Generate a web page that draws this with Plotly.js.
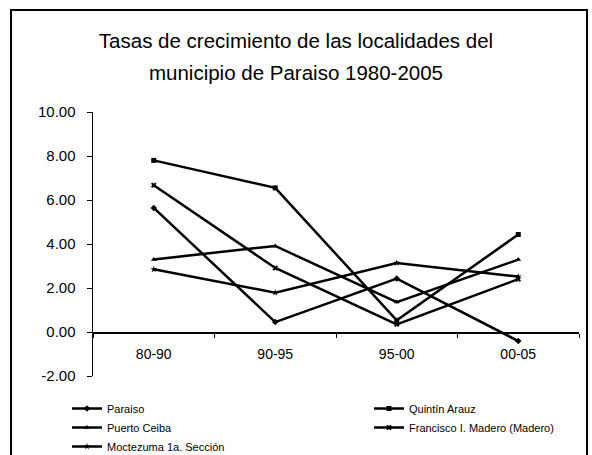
<!DOCTYPE html>
<html>
<head>
<meta charset="utf-8">
<script src="https://cdn.plot.ly/plotly-3.0.1.min.js"></script>
<style>html,body{margin:0;padding:0;background:#fff;}#chart{width:592px;height:455px;}</style>
</head>
<body>
<div id="chart"></div>
<script>
// ---- data ----
const categories = ["80-90", "90-95", "95-00", "00-05"];
const seriesNames = ["Paraiso", "Quintín Arauz", "Puerto Ceiba", "Francisco I. Madero (Madero)", "Moctezuma 1a. Sección"];
const paraiso = [5.64, 0.45, 2.43, -0.41];
const quintinArauz = [7.80, 6.55, 0.53, 4.43];
const puertoCeiba = [3.30, 3.91, 1.36, 3.29];
const franciscoMadero = [6.67, 2.91, 0.35, 2.40];
const moctezuma = [2.85, 1.79, 3.14, 2.52];
const yTickVals = [-2, 0, 2, 4, 6, 8, 10];
const yTickText = ["-2.00", "0.00", "2.00", "4.00", "6.00", "8.00", "10.00"];
const titleLines = ["Tasas de crecimiento de las localidades del", "municipio de Paraiso 1980-2005"];

// ---- styling ----
const W = 592, H = 455;
const M = {l: 93, r: 13, t: 112, b: 79};
const plotW = W - M.l - M.r, plotH = H - M.t - M.b;
const yMin = -2, yMax = 10;
const symbols = ["diamond", "square", "triangle-up", "x", "star"];
const legendCol = ["legend", "legend2", "legend", "legend2", "legend"];
const allSeries = [paraiso, quintinArauz, puertoCeiba, franciscoMadero, moctezuma];
const font = "Liberation Sans, Arial, sans-serif";

const traces = allSeries.map((vals, i) => ({
  type: "scatter",
  mode: "lines+markers",
  name: seriesNames[i],
  legend: legendCol[i],
  x: categories,
  y: vals,
  line: {color: "#000", width: 2.5},
  marker: {color: "#000", size: 5, symbol: symbols[i]},
  cliponaxis: false
}));

const px = v => (v - M.l) / plotW;
const py = v => (H - M.b - v) / plotH;

const legendBase = {
  orientation: "v",
  xanchor: "left",
  y: py(394), yanchor: "top",
  font: {family: font, size: 11, color: "#000"},
  bgcolor: "rgba(0,0,0,0)",
  itemwidth: 30
};

const layout = {
  width: W, height: H,
  margin: {l: M.l, r: M.r, t: M.t, b: M.b, pad: 0, autoexpand: false},
  paper_bgcolor: "#fff", plot_bgcolor: "#fff",
  font: {family: font, color: "#000"},
  showlegend: true,
  title: {
    text: titleLines.map(t => '<span style="font-size:20.5px">' + t + '</span>').join("<br>"),
    font: {family: font, size: 24.5, color: "#000"},
    x: 0.5, xref: "container", xanchor: "center",
    y: 1 - 48 / H, yref: "container", yanchor: "middle"
  },
  xaxis: {
    type: "category",
    range: [-0.5, categories.length - 0.5],
    anchor: "free",
    position: (0 - yMin) / (yMax - yMin),
    showline: true, linecolor: "#000", linewidth: 1.5,
    ticks: "outside", ticklen: 4, tickwidth: 1, tickcolor: "#000",
    tickson: "boundaries",
    ticklabelstandoff: 9,
    showgrid: false, zeroline: false,
    tickfont: {family: font, size: 14, color: "#000"}
  },
  yaxis: {
    range: [yMin, yMax],
    tickvals: yTickVals, ticktext: yTickText,
    showline: true, linecolor: "#000", linewidth: 1.5,
    ticks: "outside", ticklen: 5, tickwidth: 1, tickcolor: "#000",
    ticklabelstandoff: 8,
    showgrid: false, zeroline: false,
    tickfont: {family: font, size: 15, color: "#000"}
  },
  legend: Object.assign({}, legendBase, {x: px(67)}),
  legend2: Object.assign({}, legendBase, {x: px(369)}),
  shapes: [{
    type: "rect", xref: "paper", yref: "paper",
    x0: px(11), x1: px(587), y0: py(470), y1: py(10),
    line: {color: "#000", width: 2}, fillcolor: "rgba(0,0,0,0)", layer: "below"
  }]
};

Plotly.newPlot("chart", traces, layout, {staticPlot: true, displayModeBar: false});
</script>
</body>
</html>
